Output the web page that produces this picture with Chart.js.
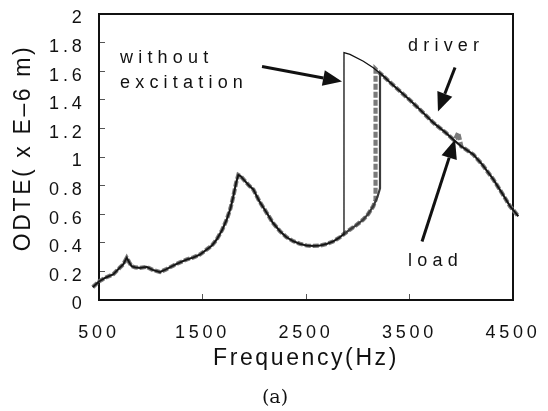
<!DOCTYPE html>
<html>
<head>
<meta charset="utf-8">
<script src="https://cdn.jsdelivr.net/npm/chart.js@4.4.1/dist/chart.umd.min.js"></script>
<style>
html,body{margin:0;padding:0;background:#fff;}
#wrap{width:548px;height:411px;position:relative;}
</style>
</head>
<body>
<div id="wrap"><canvas id="c" width="548" height="411"></canvas></div>
<script>
// ---- tick labels ----
const xTicks = [500, 1500, 2500, 3500, 4500];
const yTicks = [0, 0.2, 0.4, 0.6, 0.8, 1, 1.2, 1.4, 1.6, 1.8, 2];

// ---- shared low-frequency part (all three curves overlap) ----
const lowFreq = [440, 500, 560, 638, 700, 735, 768, 795, 816, 850, 896, 961, 1020, 1089, 1150, 1218, 1280, 1347, 1410, 1476, 1540, 1590, 1637, 1690, 1734, 1770, 1798, 1825, 1846, 1870, 1900, 1950, 1991, 2050, 2120, 2180, 2249, 2310, 2377, 2440, 2506, 2570, 2635, 2700, 2764, 2820, 2860];
const lowOdte = [0.09, 0.13, 0.155, 0.18, 0.225, 0.25, 0.295, 0.26, 0.236, 0.228, 0.225, 0.232, 0.21, 0.195, 0.215, 0.241, 0.262, 0.283, 0.297, 0.318, 0.353, 0.38, 0.423, 0.49, 0.563, 0.64, 0.726, 0.82, 0.875, 0.865, 0.84, 0.80, 0.773, 0.69, 0.61, 0.54, 0.481, 0.44, 0.411, 0.393, 0.381, 0.378, 0.381, 0.392, 0.41, 0.435, 0.458];

// ---- shared high-frequency descending part ----
const highFreq = [3250, 3300, 3400, 3500, 3600, 3730, 3850, 3923, 4000, 4117, 4200, 4310, 4400, 4471, 4551];
const highOdte = [1.565, 1.53, 1.465, 1.40, 1.332, 1.24, 1.17, 1.122, 1.075, 1.017, 0.95, 0.843, 0.74, 0.656, 0.586];

// ---- jump regions per series ----
const withoutFreq = [2867, 2867, 2925, 3054, 3150];
const withoutOdte = [0.46, 1.73, 1.717, 1.67, 1.624];

const driverFreq = [2920, 2980, 3054, 3100, 3150, 3190, 3215, 3215];
const driverOdte = [0.49, 0.52, 0.563, 0.60, 0.656, 0.72, 0.78, 1.585];

const loadFreq = [2920, 2980, 3054, 3100, 3150, 3172, 3172, 3200];
const loadOdte = [0.49, 0.52, 0.563, 0.60, 0.656, 0.70, 1.615, 1.595];
const loadSpikeFreq = [3945, 3970, 3990];
const loadSpikeOdte = [1.13, 1.17, 1.11];

function pts(fs, vs) { return fs.map((f, i) => ({x: f, y: vs[i]})); }
function series(parts) {
  let out = [];
  parts.forEach(p => { out = out.concat(pts(p[0], p[1])); });
  return out;
}
const withoutData = series([[lowFreq, lowOdte], [withoutFreq, withoutOdte], [highFreq, highOdte]]);
const driverData = series([[lowFreq, lowOdte], [driverFreq, driverOdte], [highFreq, highOdte]]);
const loadData = series([[lowFreq, lowOdte], [loadFreq, loadOdte], [highFreq, highOdte], [loadSpikeFreq, loadSpikeOdte]])
  .map((p, i) => ({p, i})).sort((a, b) => a.p.x - b.p.x || a.i - b.i).map(o => o.p);

// ---- annotation texts & arrows (in data units) ----
const labels = [
  {text: 'without', f: 703, v: 1.659},
  {text: 'excitation', f: 703, v: 1.484},
  {text: 'driver', f: 3486, v: 1.740},
  {text: 'load', f: 3486, v: 0.236}
];
const arrows = [
  {f1: 2075, v1: 1.633, f2: 2848, v2: 1.528},
  {f1: 3940, v1: 1.626, f2: 3775, v2: 1.318},
  {f1: 3621, v1: 0.409, f2: 3940, v2: 1.122}
];

// ---- letter spacing per font size (reference text is widely spaced) ----
const canvas = document.getElementById('c');
const ctx0 = canvas.getContext('2d');
const rawFill = ctx0.fillText;
const SPACING = {18: 3.8, 23: 2.6};
ctx0.fillText = function (t, x, y, w) {
  const m = /([\d.]+)px/.exec(this.font);
  const s = m ? parseFloat(m[1]) : 0;
  this.letterSpacing = (SPACING[s] || 0) + 'px';
  if (w === undefined) return rawFill.call(this, t, x, y);
  return rawFill.call(this, t, x, y, w);
};

const annot = {
  id: 'annot',
  beforeDatasetsDraw(chart) {
    const {ctx, chartArea: a} = chart;
    ctx.save();
    ctx.strokeStyle = '#111';
    ctx.lineWidth = 2;
    ctx.beginPath();
    ctx.moveTo(a.left, a.top);
    ctx.lineTo(a.right, a.top);
    ctx.lineTo(a.right, a.bottom);
    ctx.stroke();
    ctx.restore();
  },
  afterDatasetsDraw(chart) {
    const {ctx, scales: {x, y}} = chart;
    ctx.save();
    ctx.fillStyle = '#111';
    ctx.font = "18px 'Liberation Sans', Arial, sans-serif";
    ctx.letterSpacing = '5.2px';
    ctx.textAlign = 'left';
    ctx.textBaseline = 'alphabetic';
    labels.forEach(l => rawFill.call(ctx, l.text, x.getPixelForValue(l.f), y.getPixelForValue(l.v)));
    ctx.strokeStyle = '#111';
    ctx.lineWidth = 3;
    arrows.forEach(ar => {
      const x1 = x.getPixelForValue(ar.f1), y1 = y.getPixelForValue(ar.v1);
      const x2 = x.getPixelForValue(ar.f2), y2 = y.getPixelForValue(ar.v2);
      const ang = Math.atan2(y2 - y1, x2 - x1);
      const hl = 19, hw = 8;
      const bx = x2 - hl * Math.cos(ang), by = y2 - hl * Math.sin(ang);
      ctx.beginPath();
      ctx.moveTo(x1, y1);
      ctx.lineTo(bx, by);
      ctx.stroke();
      ctx.beginPath();
      ctx.moveTo(x2, y2);
      ctx.lineTo(bx + hw * Math.sin(ang), by - hw * Math.cos(ang));
      ctx.lineTo(bx - hw * Math.sin(ang), by + hw * Math.cos(ang));
      ctx.closePath();
      ctx.fill();
    });
    ctx.restore();
  },
  afterDraw(chart) {
    const ctx = chart.ctx;
    ctx.save();
    ctx.fillStyle = '#111';
    ctx.font = "19px 'DejaVu Serif', serif";
    ctx.letterSpacing = '0px';
    ctx.textAlign = 'center';
    ctx.textBaseline = 'alphabetic';
    rawFill.call(ctx, '(a)', 275, 403);
    ctx.restore();
  }
};

new Chart(ctx0, {
  type: 'line',
  data: {
    datasets: [
      {label: 'without excitation', data: withoutData, borderColor: '#111', borderWidth: 1.3, pointRadius: 0, tension: 0, clip: false, order: 0},
      {label: 'driver', data: driverData, borderColor: '#3a3a3a', borderWidth: 2.2, pointRadius: 0, tension: 0, clip: false, order: 1},
      {label: 'load', data: loadData, borderColor: '#7a7a7a', borderWidth: 4.2, borderDash: [6, 2], pointRadius: 0, tension: 0, clip: false, order: 2}
    ]
  },
  options: {
    responsive: false,
    animation: false,
    devicePixelRatio: 1,
    layout: {padding: {left: 0, top: 14, right: 35, bottom: 0}},
    plugins: {legend: {display: false}, tooltip: {enabled: false}},
    scales: {
      x: {
        type: 'linear', min: 500, max: 4500,
        afterBuildTicks: s => { s.ticks = xTicks.map(v => ({value: v})); },
        afterFit: s => { s.height = 111; s.paddingLeft = 0; s.paddingRight = 0; },
        ticks: {font: {family: "'Liberation Sans', Arial, sans-serif", size: 18}, color: '#111', padding: 28, maxRotation: 0, autoSkip: false, callback: v => String(v)},
        grid: {display: true, drawOnChartArea: false, drawTicks: true, tickLength: -6, tickColor: '#555', tickWidth: 1},
        border: {display: true, color: '#111', width: 2},
        title: {display: true, text: 'Frequency(Hz)', color: '#111', font: {family: "'Liberation Sans', Arial, sans-serif", size: 23}, padding: {top: 0, bottom: 39}}
      },
      y: {
        type: 'linear', min: 0, max: 2,
        afterBuildTicks: s => { s.ticks = yTicks.map(v => ({value: v})); },
        afterFit: s => { s.width = 99; s.paddingTop = 0; s.paddingBottom = 0; },
        ticks: {font: {family: "'Liberation Sans', Arial, sans-serif", size: 18}, color: '#111', padding: 19.5, labelOffset: 4.5, autoSkip: false, callback: v => String(Math.round(v * 10) / 10)},
        grid: {display: true, drawOnChartArea: false, drawTicks: true, tickLength: -6, tickColor: '#555', tickWidth: 1},
        border: {display: true, color: '#111', width: 2},
        title: {display: true, text: '  ODTE( x E\u20136 m)', color: '#111', font: {family: "'Liberation Sans', Arial, sans-serif", size: 23}, padding: {top: 10, bottom: 0}}
      }
    }
  },
  plugins: [annot]
});
</script>
</body>
</html>
